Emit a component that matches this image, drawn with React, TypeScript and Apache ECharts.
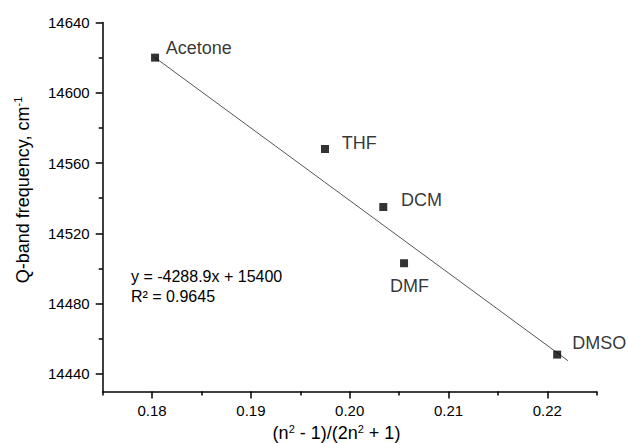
import React, { useEffect, useRef } from "react";
import * as echarts from "echarts";

const solvents = ["Acetone", "THF", "DCM", "DMF", "DMSO"];
const polarity = [0.1803, 0.1975, 0.2034, 0.2055, 0.221];
const qBand = [14620, 14568, 14535, 14503, 14451];

const fitX = [0.1803, 0.2221];
const fitY = [14620, 14447.5];

const xMajorTicks = [0.18, 0.19, 0.2, 0.21, 0.22];
const xMinorTicks = [0.175, 0.185, 0.195, 0.205, 0.215, 0.225];
const yMajorTicks = [14440, 14480, 14520, 14560, 14600, 14640];
const yMinorTicks = [14460, 14500, 14540, 14580, 14620];

const equationText = "y = -4288.9x + 15400";
const r2Text = "R\u00b2 = 0.9645";

const FONT = "'Liberation Sans', Arial, sans-serif";

// label placement relative to the marker centre (style only)
const labelPlacement: Record<string, { align: string; dx: number; dy: number }> = {
  Acetone: { align: "left", dx: 10.7, dy: -9.3 },
  THF: { align: "left", dx: 16.7, dy: -5.7 },
  DCM: { align: "left", dx: 17.7, dy: -6.7 },
  DMF: { align: "center", dx: 5.5, dy: 22.3 },
  DMSO: { align: "left", dx: 15, dy: -11.3 },
};

export default function App() {
  const ref = useRef<HTMLDivElement>(null);
  useEffect(() => {
    if (!ref.current) return;
    const chart = echarts.init(ref.current, null, { renderer: "svg" });
    const axisLineStyle = { color: "#000", width: 1.5 };
    const scatterData = solvents.map((name, i) => {
      const p = labelPlacement[name];
      return {
        name,
        value: [polarity[i], qBand[i]],
        label: {
          show: true,
          formatter: name,
          position: [4, 4],
          align: p.align,
          verticalAlign: "middle",
          offset: [p.dx, p.dy],
          fontSize: 18,
          fontFamily: FONT,
          color: "#000",
        },
      };
    });
    chart.setOption({
      animation: false,
      backgroundColor: "#fff",
      grid: { left: 102.7, right: 31.3, top: 22.5, bottom: 51.5 },
      xAxis: [
        {
          type: "value",
          position: "bottom",
          min: 0.175,
          max: 0.225,
          axisLine: { show: true, onZero: false, lineStyle: axisLineStyle },
          axisTick: { show: true, length: 7, customValues: xMajorTicks, lineStyle: axisLineStyle },
          axisLabel: {
            show: true,
            customValues: xMajorTicks,
            formatter: (v: number) => v.toFixed(2),
            fontSize: 15,
            fontFamily: FONT,
            color: "#000",
            margin: 11,
          },
          splitLine: { show: false },
        },
        {
          type: "value",
          position: "bottom",
          min: 0.175,
          max: 0.225,
          axisLine: { show: false, onZero: false },
          axisTick: { show: true, length: 4, customValues: xMinorTicks, lineStyle: axisLineStyle },
          axisLabel: { show: false },
          splitLine: { show: false },
        },
      ],
      yAxis: [
        {
          type: "value",
          position: "left",
          min: 14430,
          max: 14640,
          axisLine: { show: true, onZero: false, lineStyle: axisLineStyle },
          axisTick: { show: true, length: 7, customValues: yMajorTicks, lineStyle: axisLineStyle },
          axisLabel: {
            show: true,
            customValues: yMajorTicks,
            formatter: (v: number) => String(Math.round(v)),
            fontSize: 15,
            fontFamily: FONT,
            color: "#000",
            margin: 13,
          },
          splitLine: { show: false },
        },
        {
          type: "value",
          position: "left",
          min: 14430,
          max: 14640,
          axisLine: { show: false, onZero: false },
          axisTick: { show: true, length: 4, customValues: yMinorTicks, lineStyle: axisLineStyle },
          axisLabel: { show: false },
          splitLine: { show: false },
        },
      ],
      series: [
        {
          type: "line",
          xAxisIndex: 0,
          yAxisIndex: 0,
          data: fitX.map((x, i) => [x, fitY[i]]),
          symbol: "none",
          lineStyle: { color: "#555", width: 1 },
          silent: true,
          z: 1,
        },
        {
          type: "scatter",
          xAxisIndex: 0,
          yAxisIndex: 0,
          symbol: "rect",
          symbolSize: 8,
          itemStyle: { color: "#000" },
          data: scatterData,
          z: 3,
        },
      ],
      graphic: [
        {
          type: "text",
          x: 336.5,
          y: 433.3,
          style: {
            text: "{a|(n}{s|2}{a| - 1)/(2n}{s|2}{a| + 1)}",
            align: "center",
            verticalAlign: "middle",
            rich: {
              a: { fontSize: 18, fontFamily: FONT, fill: "#000", lineHeight: 20 },
              s: { fontSize: 11, fontFamily: FONT, fill: "#000", verticalAlign: "top", lineHeight: 20, padding: [0, 0, 6, 0] },
            },
          },
        },
        {
          type: "text",
          x: 22.7,
          y: 190,
          rotation: Math.PI / 2,
          style: {
            text: "{a|Q-band frequency, cm}{s|-1}",
            align: "center",
            verticalAlign: "middle",
            rich: {
              a: { fontSize: 18, fontFamily: FONT, fill: "#000", lineHeight: 20 },
              s: { fontSize: 11, fontFamily: FONT, fill: "#000", verticalAlign: "top", lineHeight: 20, padding: [0, 0, 6, 0] },
            },
          },
        },
        {
          type: "text",
          x: 131,
          y: 276,
          style: { text: equationText, fontSize: 16, fontFamily: FONT, fill: "#000", align: "left", verticalAlign: "middle" },
        },
        {
          type: "text",
          x: 131,
          y: 296.7,
          style: { text: r2Text, fontSize: 16, fontFamily: FONT, fill: "#000", align: "left", verticalAlign: "middle" },
        },
      ],
    });
    return () => chart.dispose();
  }, []);
  return (
    <div
      ref={ref}
      style={{ position: "absolute", left: 0, top: 0, width: 628, height: 443, background: "#fff" }}
    />
  );
}
